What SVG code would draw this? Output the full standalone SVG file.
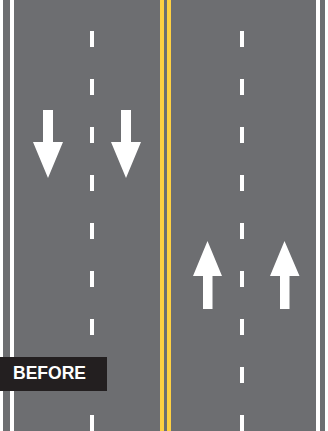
<svg xmlns="http://www.w3.org/2000/svg" width="328" height="431" viewBox="0 0 328 431">
<style>
.road{fill:#6d6e71}
.edge{fill:#ffffff}
.yel{fill:#fdd043}
.dash{stroke:#ffffff;stroke-width:4;stroke-dasharray:16 32}
.arrow{fill:#ffffff}
.label{fill:#ffffff;font-family:"Liberation Sans",Arial,sans-serif;font-weight:bold;font-size:18px}
</style>
<rect x="0" y="0" width="328" height="431" fill="#ffffff"/>
<g id="road">
<rect class="road" x="3" y="0" width="322" height="431"/>
<rect class="edge" x="10" y="0" width="4" height="431"/>
<rect class="edge" x="316" y="0" width="4" height="431"/>
<rect class="yel" x="160" y="0" width="4" height="431"/>
<rect class="yel" x="167" y="0" width="4" height="431"/>
</g>
<g id="lane-dashes">
<line class="dash" x1="92" y1="31" x2="92" y2="431"/>
<line class="dash" x1="242" y1="31" x2="242" y2="431"/>
</g>
<g id="arrow-down-1"><polygon class="arrow" points="43,110 53,110 53,142 63,142 48,178 33,142 43,142"/></g>
<g id="arrow-down-2"><polygon class="arrow" points="121,110 131,110 131,142 141,142 126,178 111,142 121,142"/></g>
<g id="arrow-up-1"><polygon class="arrow" points="207.5,241 222,276 212.5,276 212.5,309 203,309 203,276 193,276"/></g>
<g id="arrow-up-2"><polygon class="arrow" points="284.5,241 299.5,276 289.5,276 289.5,309 280,309 280,276 270,276"/></g>
<g id="before-label">
<rect x="0" y="357" width="107" height="34" fill="#231f20"/>
<text class="label" x="13" y="378.5" textLength="73" lengthAdjust="spacingAndGlyphs">BEFORE</text>
</g>
</svg>
